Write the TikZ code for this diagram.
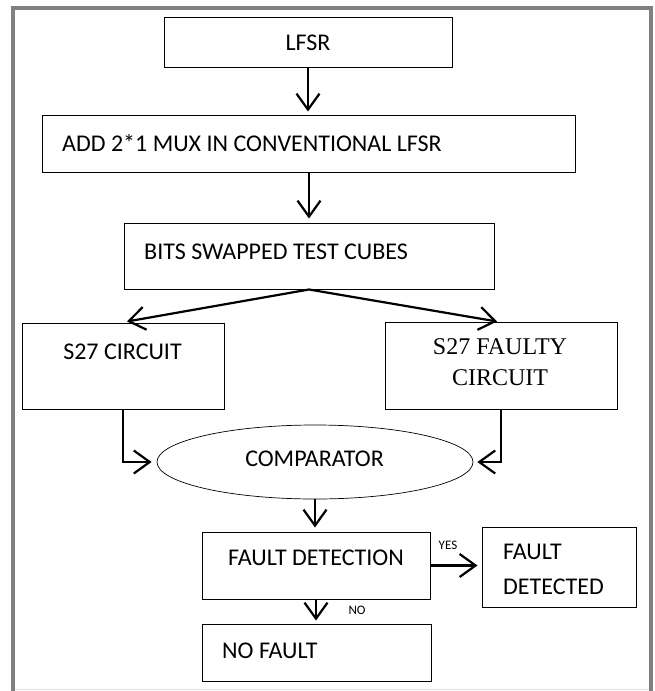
\documentclass[tikz,border=0pt]{standalone}
\usepackage{fontspec}
\setmainfont{Carlito}
\newfontfamily\timesfont{Liberation Serif}
\usetikzlibrary{arrows.meta,shapes.geometric}

\begin{document}
\begin{tikzpicture}[x=1pt,y=-1pt,
  box/.style={draw=black, line width=1pt, rectangle, inner sep=0pt},
  oval/.style={draw=black, line width=0.7pt, ellipse, inner sep=0pt},
  txt/.style={inner sep=0pt, font=\fontsize{24}{29}\selectfont},
  small/.style={inner sep=0pt, font=\fontsize{13}{15}\selectfont},
  flow/.style={draw=black, line width=2.2pt,
    -{Straight Barb[length=16pt,width=23pt,line width=2.2pt]}},
  framegray/.style={draw={rgb,255:red,128;green,128;blue,128}, line width=4pt}
]
\useasboundingbox (0,0) rectangle (654,691);

% page frame
\draw[framegray] (13,691) -- (13,8) -- (651,8) -- (651,691);
\draw[gray!25, line width=1.5pt] (15,689.5) -- (649,689.5);

% boxes
\node[box, minimum width=288pt, minimum height=50pt] (lfsr) at (308,42) {};
\node[box, minimum width=533pt, minimum height=57pt] (add)  at (308.5,143.5) {};
\node[box, minimum width=370pt, minimum height=66pt] (bits) at (309,256) {};
\node[box, minimum width=202pt, minimum height=86pt] (good) at (123,366) {};
\node[box, minimum width=232pt, minimum height=87pt] (bad)  at (501,365.5) {};
\node[oval, minimum width=316pt, minimum height=74pt] (cmp) at (315,462) {};
\node[box, minimum width=228pt, minimum height=67pt] (fd)   at (316,565.5) {};
\node[box, minimum width=154pt, minimum height=80pt] (fdd)  at (559,567) {};
\node[box, minimum width=229pt, minimum height=57pt] (nf)   at (316.5,652.5) {};

% box texts
\node[txt] (tlfsr) at (308,43) {LFSR};
\node[txt, anchor=west] (tadd) at (62,143) {ADD 2*1 MUX IN CONVENTIONAL LFSR};
\node[txt, anchor=west] (tbits) at (144,252) {BITS SWAPPED TEST CUBES};
\node[txt] (tgood) at (122.5,352) {S27 CIRCUIT};
\node[inner sep=0pt, align=center, font=\timesfont\fontsize{24}{31}\selectfont]
  (tbad) at (500,362.5) {S27 FAULTY\\CIRCUIT};
\node[txt] (tcmp) at (314.5,459) {COMPARATOR};
\node[txt] (tfd) at (316,558) {FAULT DETECTION};
\node[inner sep=0pt, align=left, font=\fontsize{24}{35}\selectfont, anchor=west]
  (tfdd) at (503,569.5) {FAULT\\DETECTED};
\node[txt, anchor=west] (tnf) at (222,651) {NO FAULT};

% connectors
\draw[flow, shorten >=3pt] (lfsr.south) -- (lfsr.south |- add.north);
\draw[flow, shorten >=4pt] (bits.north |- add.south) -- (bits.north);
\draw[flow] (bits.south) -- ([xshift=4pt,yshift=1pt]good.north);
\draw[flow] (bits.south) -- ([xshift=-4pt]bad.north);
\draw[flow, shorten >=5pt] (good.south) |- (cmp.west);
\draw[flow, shorten >=4pt] (bad.south) |- (cmp.east);
\draw[flow, shorten >=4pt] (cmp.south) -- (cmp.south |- fd.north);
\draw[flow, shorten >=4pt] (fd.east) -- (fdd.west |- fd.east);
\draw[flow, shorten >=3pt] (fd.south) -- (fd.south |- nf.north);

% branch labels
\node[small] (yes) at (448,545) {YES};
\node[small] (no) at (357,610) {NO};
\end{tikzpicture}
\end{document}
